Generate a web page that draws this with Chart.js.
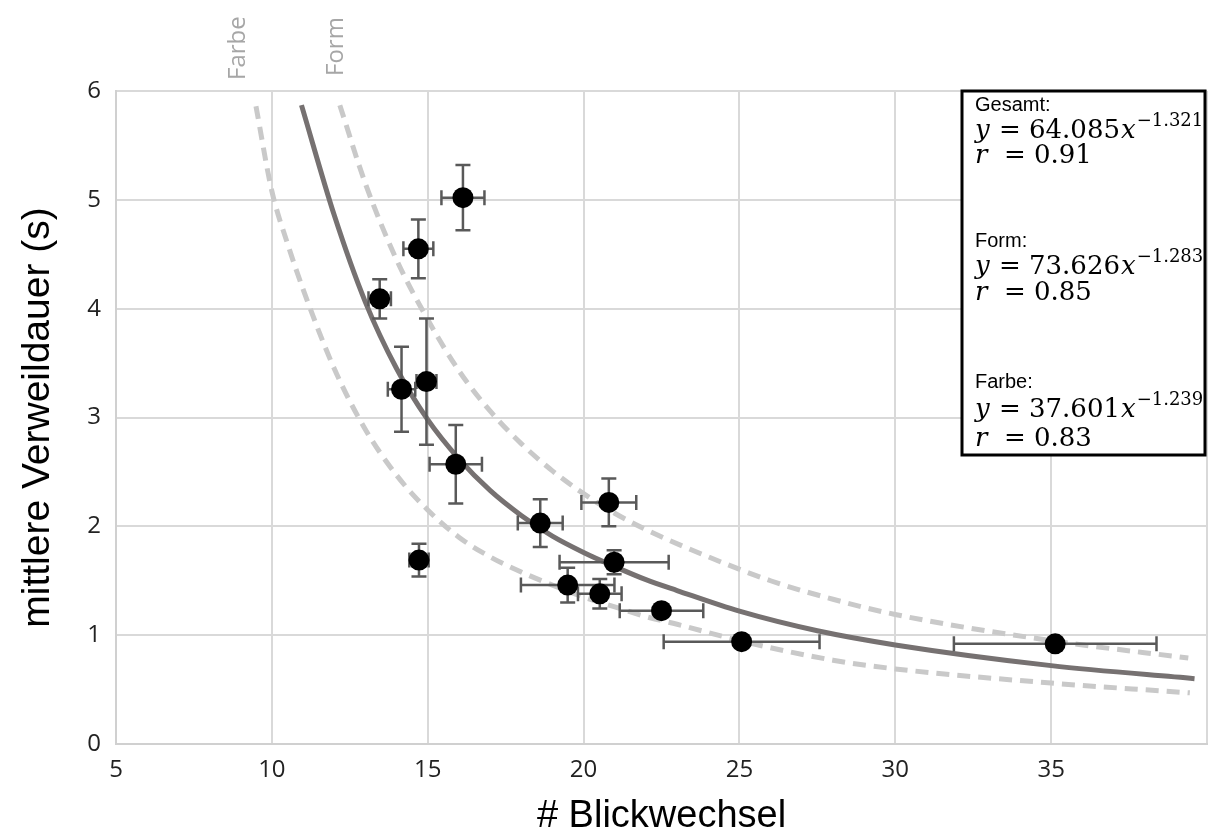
<!DOCTYPE html>
<html>
<head>
<meta charset="utf-8">
<script src="https://cdn.jsdelivr.net/npm/chart.js@4.4.1/dist/chart.umd.min.js"></script>
<style>
  html, body { margin: 0; padding: 0; background: #fff; }
  #wrap { width: 1209px; height: 839px; }
</style>
</head>
<body>
<div id="wrap"><canvas id="chart" width="1209" height="839"></canvas></div>
<script>
// Messpunkte (Mittelwerte) mit Fehlerbalken
const blickwechsel = [13.46, 14.70, 16.13, 14.16, 14.96, 15.90, 14.72, 18.61, 20.81, 20.98, 19.49, 20.52, 22.50, 25.07, 35.13];
const verweildauer = [4.09, 4.55, 5.02, 3.26, 3.33, 2.57, 1.69, 2.03, 2.22, 1.67, 1.46, 1.38, 1.225, 0.94, 0.92];
const fehlerX = [0.36, 0.48, 0.69, 0.44, 0.32, 0.84, 0.31, 0.72, 0.88, 1.75, 1.50, 0.70, 1.34, 2.50, 3.25];
const fehlerY = [0.18, 0.27, 0.30, 0.39, 0.58, 0.36, 0.15, 0.22, 0.22, 0.11, 0.16, 0.135, 0, 0, 0];

// Trendlinien
const gesamtX = [10.95, 12, 13, 14, 15, 16, 17, 18, 19, 20, 21, 22, 23, 25, 27.5, 30, 35, 39.6];
const gesamtY = [5.87, 4.86, 4.06, 3.45, 2.98, 2.62, 2.33, 2.10, 1.91, 1.76, 1.63, 1.51, 1.41, 1.22, 1.04, 0.91, 0.72, 0.60];
const formX = [12.18, 13, 14, 15, 16, 17, 18, 19, 20, 21, 22, 24, 26, 28, 30, 35, 39.4];
const formY = [5.87, 5.15, 4.45, 3.90, 3.43, 3.06, 2.76, 2.51, 2.30, 2.12, 1.97, 1.72, 1.50, 1.33, 1.19, 0.95, 0.79];
const farbeX = [9.49, 10, 10.5, 11, 12, 13, 14, 15, 16, 17, 18, 19, 20, 21, 22, 23, 25, 28, 30, 35, 39.45];
const farbeY = [5.86, 5.08, 4.60, 4.18, 3.45, 2.89, 2.47, 2.15, 1.90, 1.72, 1.58, 1.46, 1.35, 1.26, 1.17, 1.10, 0.95, 0.77, 0.69, 0.56, 0.47];

const xTicks = [5, 10, 15, 20, 25, 30, 35];
const yTicks = [0, 1, 2, 3, 4, 5, 6];

// Beschriftung oben (x-Position in Datenwerten)
const kurvenLabels = [['Farbe', 8.92, 80], ['Form', 12.07, 76]];

const legendeZeilen = [
  { titel: 'Gesamt:', a: '64.085', b: '\u22121.321', r: '0.91' },
  { titel: 'Form:', a: '73.626', b: '\u22121.283', r: '0.85' },
  { titel: 'Farbe:', a: '37.601', b: '\u22121.239', r: '0.83' }
];

function toPoints(xs, ys) {
  return xs.map((x, i) => ({ x: x, y: ys[i] }));
}

const errorBars = {
  id: 'errorBars',
  beforeDatasetDraw(chart, args) {
    if (args.index !== 0) return;
    const ctx = chart.ctx;
    const xs = chart.scales.x, ys = chart.scales.y;
    ctx.save();
    ctx.strokeStyle = '#595959';
    ctx.lineWidth = 2.5;
    const cap = 7.5;
    blickwechsel.forEach((bx, i) => {
      const px = xs.getPixelForValue(bx);
      const py = ys.getPixelForValue(verweildauer[i]);
      if (fehlerX[i] > 0) {
        const x1 = xs.getPixelForValue(bx - fehlerX[i]);
        const x2 = xs.getPixelForValue(bx + fehlerX[i]);
        ctx.beginPath();
        ctx.moveTo(x1, py); ctx.lineTo(x2, py);
        ctx.moveTo(x1, py - cap); ctx.lineTo(x1, py + cap);
        ctx.moveTo(x2, py - cap); ctx.lineTo(x2, py + cap);
        ctx.stroke();
      }
      if (fehlerY[i] > 0) {
        const y1 = ys.getPixelForValue(verweildauer[i] - fehlerY[i]);
        const y2 = ys.getPixelForValue(verweildauer[i] + fehlerY[i]);
        ctx.beginPath();
        ctx.moveTo(px, y1); ctx.lineTo(px, y2);
        ctx.moveTo(px - cap, y1); ctx.lineTo(px + cap, y1);
        ctx.moveTo(px - cap, y2); ctx.lineTo(px + cap, y2);
        ctx.stroke();
      }
    });
    ctx.restore();
  }
};

const extras = {
  id: 'extras',
  afterDraw(chart) {
    const ctx = chart.ctx;
    const area = chart.chartArea;
    const xs = chart.scales.x;
    ctx.save();

    // gedrehte Labels ueber den Kurven
    ctx.fillStyle = '#a6a6a6';
    ctx.font = '24px "Open Sans"';
    ctx.textAlign = 'left';
    ctx.textBaseline = 'middle';
    kurvenLabels.forEach(([txt, xv, yb]) => {
      ctx.save();
      ctx.translate(xs.getPixelForValue(xv), yb);
      ctx.rotate(-Math.PI / 2);
      ctx.fillText(txt, 0, 0);
      ctx.restore();
    });

    // Kasten mit Gleichungen
    const left = 962, right = area.right - 2, top = area.top, bottom = 455;
    ctx.fillStyle = '#fff';
    ctx.fillRect(left, top, right - left, bottom - top);
    ctx.strokeStyle = '#000';
    ctx.lineWidth = 3;
    ctx.strokeRect(left, top, right - left, bottom - top);

    const tx = left + 13;
    const base = '26px "DejaVu Serif"';
    const ital = 'italic 26px "DejaVu Serif"';
    const sup = '18px "DejaVu Serif"';
    const rowsY = [[14, 40, 65], [150, 176, 202], [291, 319, 348]];
    ctx.fillStyle = '#000';
    legendeZeilen.forEach((z, i) => {
      const [y0, y1, y2] = rowsY[i].map(v => top + v);
      ctx.font = '20px "Liberation Sans"';
      ctx.fillText(z.titel, tx, y0);
      let x = tx;
      const parts = [['y', ital, 0], [' = ' + z.a, base, 0], ['x', ital, 0], [z.b, sup, -10]];
      parts.forEach(([t, f, dy]) => {
        ctx.font = f;
        ctx.fillText(t, x, y1 + dy);
        x += ctx.measureText(t).width + (f === sup ? 0 : 1);
      });
      x = tx;
      [['r', ital], ['  = ' + z.r, base]].forEach(([t, f]) => {
        ctx.font = f;
        ctx.fillText(t, x, y2);
        x += ctx.measureText(t).width;
      });
    });
    ctx.restore();
  }
};

new Chart(document.getElementById('chart').getContext('2d'), {
  type: 'line',
  data: {
    datasets: [
      {
        label: 'Messwerte',
        data: toPoints(blickwechsel, verweildauer),
        showLine: false,
        pointRadius: 10.5,
        pointBackgroundColor: '#000',
        pointBorderWidth: 0
      },
      {
        label: 'Gesamt',
        data: toPoints(gesamtX, gesamtY),
        borderColor: '#767171',
        borderWidth: 5,
        pointRadius: 0,
        cubicInterpolationMode: 'monotone'
      },
      {
        label: 'Form',
        data: toPoints(formX, formY),
        borderColor: '#c9c9c9',
        borderWidth: 5,
        borderDash: [13, 8],
        pointRadius: 0,
        cubicInterpolationMode: 'monotone'
      },
      {
        label: 'Farbe',
        data: toPoints(farbeX, farbeY),
        borderColor: '#c9c9c9',
        borderWidth: 5,
        borderDash: [13, 8],
        pointRadius: 0,
        cubicInterpolationMode: 'monotone'
      }
    ]
  },
  options: {
    responsive: false,
    animation: false,
    layout: { autoPadding: false, padding: { top: 91, right: 2, left: 0, bottom: 0 } },
    plugins: {
      legend: { display: false },
      tooltip: { enabled: false }
    },
    scales: {
      x: {
        type: 'linear',
        min: 5,
        max: 40,
        afterBuildTicks(scale) {
          scale.ticks = xTicks.concat([40]).map(v => ({ value: v }));
        },
        afterFit(scale) {
          scale.height = 95;
          scale.paddingLeft = 0;
          scale.paddingRight = 0;
        },
        grid: { color: '#d9d9d9', lineWidth: 2, drawTicks: false },
        border: { color: '#d0d0d0', width: 2 },
        ticks: {
          padding: 12,
          color: '#222',
          font: { family: 'Open Sans', size: 24 },
          callback: v => (xTicks.includes(v) ? v : '')
        },
        title: {
          display: true,
          text: '# Blickwechsel',
          color: '#000',
          font: { family: 'Liberation Sans', size: 38 },
          padding: { top: 0, bottom: 0 }
        }
      },
      y: {
        min: 0,
        max: 6,
        afterBuildTicks(scale) {
          scale.ticks = yTicks.map(v => ({ value: v }));
        },
        afterFit(scale) {
          scale.width = 116;
          scale.paddingTop = 0;
          scale.paddingBottom = 0;
        },
        grid: { color: '#d9d9d9', lineWidth: 2, drawTicks: false },
        border: { color: '#d0d0d0', width: 2 },
        ticks: {
          padding: 15,
          color: '#222',
          font: { family: 'Open Sans', size: 24 }
        },
        title: {
          display: true,
          text: 'mittlere Verweildauer (s)',
          color: '#000',
          font: { family: 'Liberation Sans', size: 39 },
          padding: { top: 15, bottom: 0 }
        }
      }
    }
  },
  plugins: [errorBars, extras]
});
</script>
</body>
</html>
